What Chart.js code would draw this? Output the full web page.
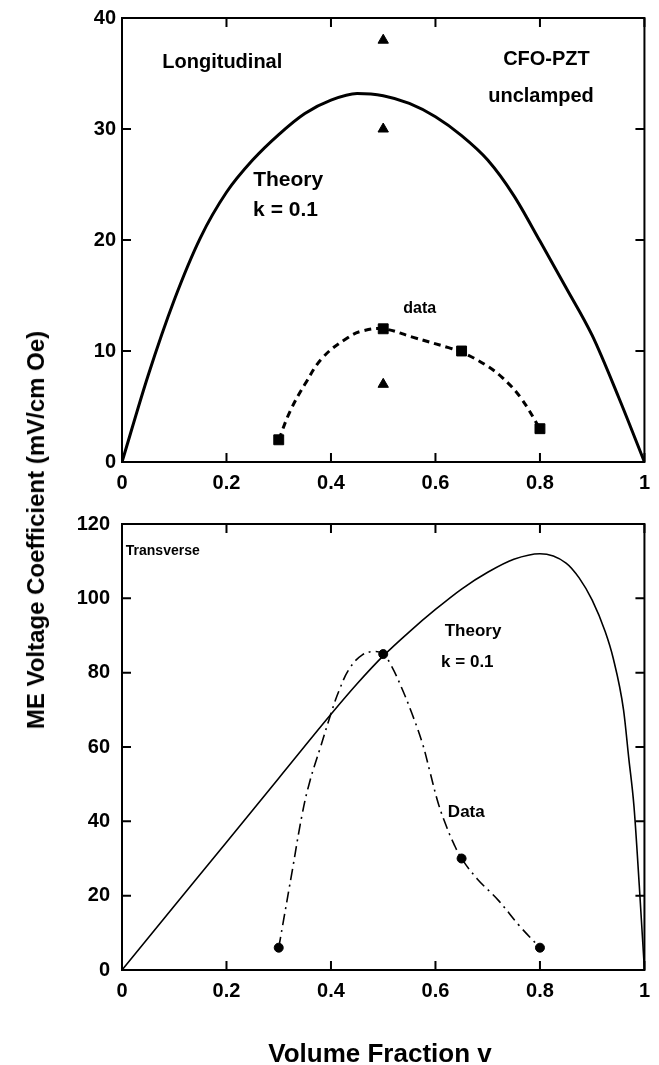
<!DOCTYPE html>
<html>
<head>
<meta charset="utf-8">
<script src="https://cdn.jsdelivr.net/npm/chart.js@4.4.0/dist/chart.umd.min.js"></script>
<style>
    body { margin: 0; background: #fff; width: 659px; height: 1065px; position: relative; overflow: hidden; font-family: "Liberation Sans", Arial, sans-serif; }
    canvas { position: absolute; left: 0; }
    #topChart { top: 0; }
    #botChart { top: 500px; }
    .axis-title { position: absolute; font-weight: bold; white-space: nowrap; color: #000; transform: translate(-50%, -50%); }
    #yTitle { left: 36px; top: 530px; font-size: 24px; transform: translate(-50%, -50%) rotate(-90deg); }
    #xTitle { left: 380px; top: 1053px; font-size: 26px; }
</style>
</head>
<body>
<canvas id="topChart" width="659" height="500"></canvas>
<canvas id="botChart" width="659" height="565"></canvas>
<div id="yTitle" class="axis-title">ME Voltage Coefficient (mV/cm Oe)</div>
<div id="xTitle" class="axis-title">Volume Fraction v</div>
<script>
// ---- tick labels ----
const xTicks = [0, 0.2, 0.4, 0.6, 0.8, 1];
const topYTicks = [0, 10, 20, 30, 40];
const botYTicks = [0, 20, 40, 60, 80, 100, 120];

// ---- top panel: longitudinal ----
const longTheoryV = [0, 0.05, 0.1, 0.15, 0.2, 0.25, 0.3, 0.35, 0.4, 0.45, 0.5, 0.55, 0.6, 0.65, 0.7, 0.75, 0.8, 0.85, 0.9, 0.95, 1];
const longTheoryY = [0, 7.8, 14.6, 20.2, 24.3, 27.2, 29.5, 31.4, 32.6, 33.2, 33.0, 32.3, 31.1, 29.4, 27.2, 24.0, 19.9, 15.7, 11.4, 5.9, 0];
const longCurveV = [0.3, 0.322, 0.35, 0.384, 0.432, 0.46, 0.5, 0.556, 0.625, 0.65, 0.694, 0.728, 0.763, 0.8];
const longCurveY = [2, 4.6, 7, 9.4, 11.2, 11.8, 12, 11.25, 10.3, 9.9, 8.8, 7.6, 5.8, 3];
const longSquareV = [0.3, 0.5, 0.65, 0.8];
const longSquareY = [2, 12, 10, 3];
const longTriangleV = [0.5, 0.5, 0.5];
const longTriangleY = [38, 30, 7];

// ---- bottom panel: transverse ----
const transTheoryV = [0, 0.1, 0.2, 0.3, 0.4, 0.45, 0.5, 0.55, 0.6, 0.65, 0.7, 0.75, 0.8, 0.85, 0.875, 0.9, 0.925, 0.94, 0.96, 0.97, 0.98, 0.99, 1];
const transTheoryY = [0, 17.2, 34.4, 51.6, 68.8, 77, 84.5, 91, 97, 102.5, 107, 110.5, 112, 109.5, 105.5, 99.5, 91, 84, 70, 57, 44, 23, 0];
const transCurveV = [0.3, 0.31, 0.325, 0.345, 0.36, 0.38, 0.4, 0.415, 0.435, 0.46, 0.485, 0.5, 0.515, 0.535, 0.555, 0.575, 0.59, 0.605, 0.62, 0.635, 0.65, 0.68, 0.72, 0.76, 0.8];
const transCurveY = [6, 14, 26, 42, 51, 60, 69, 75, 81, 84.8, 85.7, 85, 82, 76, 69, 61, 53, 45, 39, 34, 30, 24.5, 18.8, 12, 6];
const transDataV = [0.3, 0.5, 0.65, 0.8];
const transDataY = [6, 85, 30, 6];

const FONT = '"Liberation Sans", Arial, sans-serif';

function pts(xs, ys) {
    return xs.map((v, i) => ({ x: v, y: ys[i] }));
}

// 枠と内向きの目盛り
const frameTicks = {
    id: 'frameTicks',
    afterDatasetsDraw(chart) {
        const { ctx, chartArea: a, scales: { x, y } } = chart;
        const len = 9;
        ctx.save();
        ctx.strokeStyle = '#000';
        ctx.lineWidth = 2;
        ctx.strokeRect(a.left, a.top, a.right - a.left, a.bottom - a.top);
        ctx.beginPath();
        x.ticks.forEach(t => {
            const px = x.getPixelForValue(t.value);
            ctx.moveTo(px, a.bottom); ctx.lineTo(px, a.bottom - len);
            ctx.moveTo(px, a.top); ctx.lineTo(px, a.top + len);
        });
        y.ticks.forEach(t => {
            const py = y.getPixelForValue(t.value);
            ctx.moveTo(a.left, py); ctx.lineTo(a.left + len, py);
            ctx.moveTo(a.right, py); ctx.lineTo(a.right - len, py);
        });
        ctx.stroke();
        ctx.restore();
    }
};

// 図中の注記
const notes = {
    id: 'notes',
    afterDraw(chart, args, opts) {
        const { ctx, scales: { x, y } } = chart;
        ctx.save();
        ctx.fillStyle = '#000';
        ctx.textAlign = 'center';
        ctx.textBaseline = 'middle';
        (opts.items || []).forEach(n => {
            ctx.font = `bold ${n.size}px ${FONT}`;
            ctx.fillText(n.text, x.getPixelForValue(n.x), y.getPixelForValue(n.y));
        });
        ctx.restore();
    }
};

function makeScales(yTicks, yMax, xHeight, labelPad) {
    return {
        x: {
            type: 'linear', min: 0, max: 1,
            afterBuildTicks: s => { s.ticks = xTicks.map(v => ({ value: v })); },
            afterFit: s => { s.height = xHeight; },
            grid: { display: false, drawTicks: false },
            border: { display: false },
            ticks: { color: '#000', padding: 9, font: { family: FONT, size: 20, weight: 'bold' }, callback: v => String(v) }
        },
        y: {
            type: 'linear', min: 0, max: yMax,
            afterBuildTicks: s => { s.ticks = yTicks.map(v => ({ value: v })); },
            afterFit: s => { s.width = 122; },
            grid: { display: false, drawTicks: false },
            border: { display: false },
            ticks: { color: '#000', padding: labelPad, font: { family: FONT, size: 20, weight: 'bold' }, callback: v => String(v) }
        }
    };
}

const baseOptions = {
    responsive: false,
    animation: false,
    devicePixelRatio: 1,
    plugins: { legend: { display: false }, tooltip: { enabled: false } }
};

new Chart(document.getElementById('topChart'), {
    type: 'scatter',
    data: {
        datasets: [
            { data: pts(longTheoryV, longTheoryY), showLine: true, borderColor: '#000', borderWidth: 3, pointRadius: 0, cubicInterpolationMode: 'monotone' },
            { data: pts(longCurveV, longCurveY), showLine: true, borderColor: '#000', borderWidth: 3, borderDash: [7, 5], pointRadius: 0, tension: 0.4 },
            { data: pts(longSquareV, longSquareY), pointStyle: 'rect', pointRadius: 7, backgroundColor: '#000', borderColor: '#000' },
            { data: pts(longTriangleV, longTriangleY), pointStyle: 'triangle', pointRadius: 6, backgroundColor: '#000', borderColor: '#000' }
        ]
    },
    options: {
        ...baseOptions,
        layout: { padding: { top: 15, right: 9, left: 0, bottom: 0 } },
        scales: makeScales(topYTicks, 40, 38, 6),
        plugins: {
            ...baseOptions.plugins,
            notes: {
                items: [
                    { text: 'Longitudinal', x: 0.192, y: 36.0, size: 20 },
                    { text: 'CFO-PZT', x: 0.8125, y: 36.3, size: 20 },
                    { text: 'unclamped', x: 0.802, y: 32.9, size: 20 },
                    { text: 'Theory', x: 0.318, y: 25.4, size: 21 },
                    { text: 'k = 0.1', x: 0.313, y: 22.7, size: 21 },
                    { text: 'data', x: 0.57, y: 13.8, size: 16 }
                ]
            }
        }
    },
    plugins: [frameTicks, notes]
});

new Chart(document.getElementById('botChart'), {
    type: 'scatter',
    data: {
        datasets: [
            { data: pts(transTheoryV, transTheoryY), showLine: true, borderColor: '#000', borderWidth: 1.6, pointRadius: 0, cubicInterpolationMode: 'monotone' },
            { data: pts(transCurveV, transCurveY), showLine: true, borderColor: '#000', borderWidth: 1.6, borderDash: [11, 5, 2, 5], pointRadius: 0, tension: 0.4 },
            { data: pts(transDataV, transDataY), pointStyle: 'circle', pointRadius: 4.5, backgroundColor: '#000', borderColor: '#000' }
        ]
    },
    options: {
        ...baseOptions,
        layout: { padding: { top: 20, right: 9, left: 0, bottom: 0 } },
        scales: makeScales(botYTicks, 120, 95, 12),
        plugins: {
            ...baseOptions.plugins,
            notes: {
                items: [
                    { text: 'Transverse', x: 0.078, y: 112.8, size: 14 },
                    { text: 'Theory', x: 0.672, y: 91.1, size: 17 },
                    { text: 'k = 0.1', x: 0.661, y: 82.8, size: 17 },
                    { text: 'Data', x: 0.659, y: 42.3, size: 17 }
                ]
            }
        }
    },
    plugins: [frameTicks, notes]
});
</script>
</body>
</html>
